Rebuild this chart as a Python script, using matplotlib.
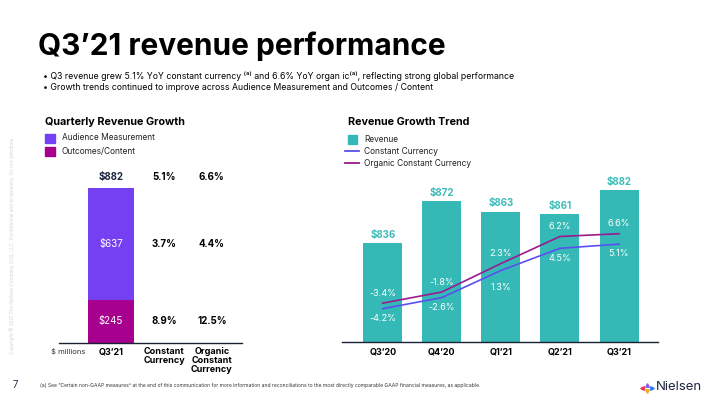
import numpy as np
import matplotlib
matplotlib.use("Agg")
import matplotlib.pyplot as plt
from matplotlib.patches import Rectangle
from matplotlib.lines import Line2D

plt.rcParams['font.family'] = ['Inter', 'DejaVu Sans']

# data
seg_labels = ["Audience Measurement", "Outcomes/Content"]
seg_values = [637, 245]
q_total = 882
cc_growth = ["5.1%", "3.7%", "8.9%"]      # total, audience, outcomes
org_growth = ["6.6%", "4.4%", "12.5%"]
left_ticks = ["Q3\u201921", "Constant\nCurrency", "Organic\nConstant\nCurrency"]

quarters = ["Q3\u201920", "Q4\u201920", "Q1\u201921", "Q2\u201921", "Q3\u201921"]
revenue = [836, 872, 863, 861, 882]
const_curr = [-4.2, -2.6, 1.3, 4.5, 5.1]
organic_cc = [-3.4, -1.8, 2.3, 6.2, 6.6]

# colours
PURPLE = "#7440F2"
MAGENTA = "#A7008F"
TEAL = "#35B9B6"
TEAL_TXT = "#3DBDBA"
CC_LINE = "#5B4FEE"
ORG_LINE = "#9A1A90"
NAVY = "#1C2541"

W, H = 720, 405
fig = plt.figure(figsize=(7.2, 4.05), dpi=100)


# pixel -> figure fraction helpers
def fx(px):
    return px / W


def fy(py):
    return 1 - py / H


# title and bullets
fig.text(fx(38), fy(55), "Q3\u201921 revenue performance", fontsize=21.5,
         fontweight="bold", va="baseline", ha="left", color="black")
fig.text(fx(43), fy(76), "\u2022 Q3 revenue grew 5.1% YoY constant currency \u207d\u1d43\u207e and "
         "6.6% YoY organ ic\u207d\u1d43\u207e, reflecting strong global performance",
         fontsize=6.25, va="center", ha="left")
fig.text(fx(43), fy(88), "\u2022 Growth trends continued to improve across Audience Measurement "
         "and Outcomes / Content", fontsize=6.25, va="center", ha="left")

# section headings
fig.text(fx(45), fy(122), "Quarterly Revenue Growth", fontsize=7.8, fontweight="bold", va="center")
fig.text(fx(348), fy(122), "Revenue Growth Trend", fontsize=7.8, fontweight="bold", va="center")

# left legend
for i, (lab, col) in enumerate(zip(seg_labels, [PURPLE, MAGENTA])):
    yy = 138 + i * 13
    fig.patches.append(Rectangle((fx(45), fy(yy + 4.5)), 10 / W, 9 / H, color=col,
                                 transform=fig.transFigure))
    fig.text(fx(62), fy(yy), lab, fontsize=6, va="center", color="#222222")

# right legend
fig.patches.append(Rectangle((fx(348), fy(143.5)), 9 / W, 9 / H, color=TEAL,
                             transform=fig.transFigure))
fig.text(fx(364), fy(139), "Revenue", fontsize=6, va="center", color="#222222")
for yy, col, lab in [(151, CC_LINE, "Constant Currency"), (163, ORG_LINE, "Organic Constant Currency")]:
    fig.lines.append(Line2D([fx(345), fx(359)], [fy(yy), fy(yy)], color=col, lw=1.3,
                            transform=fig.transFigure))
    fig.text(fx(364), fy(yy), lab, fontsize=6, va="center", color="#222222")

# ---- left chart: stacked bar plus growth table
axL = fig.add_axes([fx(59), fy(343), (242 - 59) / W, (343 - 170) / H])
col_x = [0, 1.02, 1.94]
bottom = 0
mids = []
for val, col in zip(seg_values[::-1], [MAGENTA, PURPLE]):
    axL.bar(0, val, width=0.88, bottom=bottom, color=col)
    mids.append(bottom + val / 2)
    axL.text(0, bottom + val / 2, "$%d" % val, color="white", ha="center", va="center", fontsize=7)
    bottom += val
mids = mids[::-1]
axL.annotate("$%d" % q_total, (0, q_total), xytext=(0, 8), textcoords="offset points",
             ha="center", va="center", fontsize=7, fontweight="bold", color=NAVY)
row_y = [q_total, mids[0], mids[1]]
for i in range(3):
    for x, vals in [(col_x[1], cc_growth), (col_x[2], org_growth)]:
        if i == 0:
            axL.annotate(vals[i], (x, row_y[i]), xytext=(0, 8), textcoords="offset points",
                         ha="center", va="center", fontsize=7, fontweight="bold")
        else:
            axL.text(x, row_y[i], vals[i], ha="center", va="center", fontsize=7, fontweight="bold")
axL.set_xlim(-1.0, 2.52)
axL.set_ylim(0, 985)
axL.set_xticks(col_x)
axL.set_xticklabels(left_ticks, fontsize=6.5, fontweight="bold", linespacing=1.0)
axL.tick_params(axis="x", length=0, pad=3)
axL.set_yticks([])
for s in ["top", "left", "right"]:
    axL.spines[s].set_visible(False)
axL.spines["bottom"].set_color("#1a2035")
axL.spines["bottom"].set_linewidth(1)
fig.text(fx(68), fy(351), "$ millions", ha="center", va="center", fontsize=5.5, color="#333333")

# ---- right chart: revenue bars with growth lines
axR = fig.add_axes([fx(342), fy(342), (658 - 342) / W, (342 - 170) / H])
x = np.arange(len(quarters))
axR.bar(x, revenue, width=0.66, color=TEAL)
for xi, v in zip(x, revenue):
    axR.annotate("$%d" % v, (xi, v), xytext=(0, 6), textcoords="offset points",
                 ha="center", va="center", fontsize=7, fontweight="bold", color=TEAL_TXT)
axR.set_ylim(750, 899.3)
axR.set_xlim(-0.69, 4.66)
axR.set_xticks(x)
axR.set_xticklabels(quarters, fontsize=6.5, fontweight="bold")
axR.tick_params(axis="x", length=0, pad=4)
axR.set_yticks([])
for s in ["top", "left", "right"]:
    axR.spines[s].set_visible(False)
axR.spines["bottom"].set_color("#1a2035")
axR.spines["bottom"].set_linewidth(1)

ax2 = axR.twinx()
ax2.plot(x, const_curr, color=CC_LINE, lw=1.2)
ax2.plot(x, organic_cc, color=ORG_LINE, lw=1.2)
for xi, c, o in zip(x, const_curr, organic_cc):
    ax2.annotate("%.1f%%" % o, (xi, o), xytext=(0, 7), textcoords="offset points",
                 ha="center", va="center", fontsize=6.5, color="white")
    ax2.annotate("%.1f%%" % c, (xi, c), xytext=(0, -7 if xi != 2 else -12),
                 textcoords="offset points", ha="center", va="center", fontsize=6.5, color="white")
ax2.set_ylim(-9, 15.78)
ax2.set_yticks([])
for s in ["top", "left", "right", "bottom"]:
    ax2.spines[s].set_visible(False)

# footer
fig.text(fx(15), fy(385), "7", fontsize=7, color="#2b3350", ha="center", va="center")
fig.text(fx(40), fy(385), "(a) See \u201cCertain non-GAAP measures\u201d at the end of this communication "
         "for more information and reconciliations to the most directly comparable GAAP financial "
         "measures, as applicable.", fontsize=3.6, color="#333333", va="center")
fig.text(fx(12), fy(245), "Copyright \u00a9 2021 The Nielsen Company (US), LLC. Confidential and "
         "proprietary. Do not distribute.", fontsize=3.4, color="#d5d5d5", rotation=90,
         ha="center", va="center")
fig.text(fx(656), fy(387), "Nielsen", fontsize=9.5, color=NAVY, va="center", ha="left")
for px, py, m, c in [(642, 388, "<", "#E8374F"), (647, 384.5, "^", "#8B5CF6"),
                     (647, 391, "v", "#F5A623"), (652, 388, ">", "#2F7FE8")]:
    fig.lines.append(Line2D([fx(px)], [fy(py)], marker=m, markersize=2.6, color=c, lw=0,
                            transform=fig.transFigure))

fig.savefig("out.png", dpi=100)
